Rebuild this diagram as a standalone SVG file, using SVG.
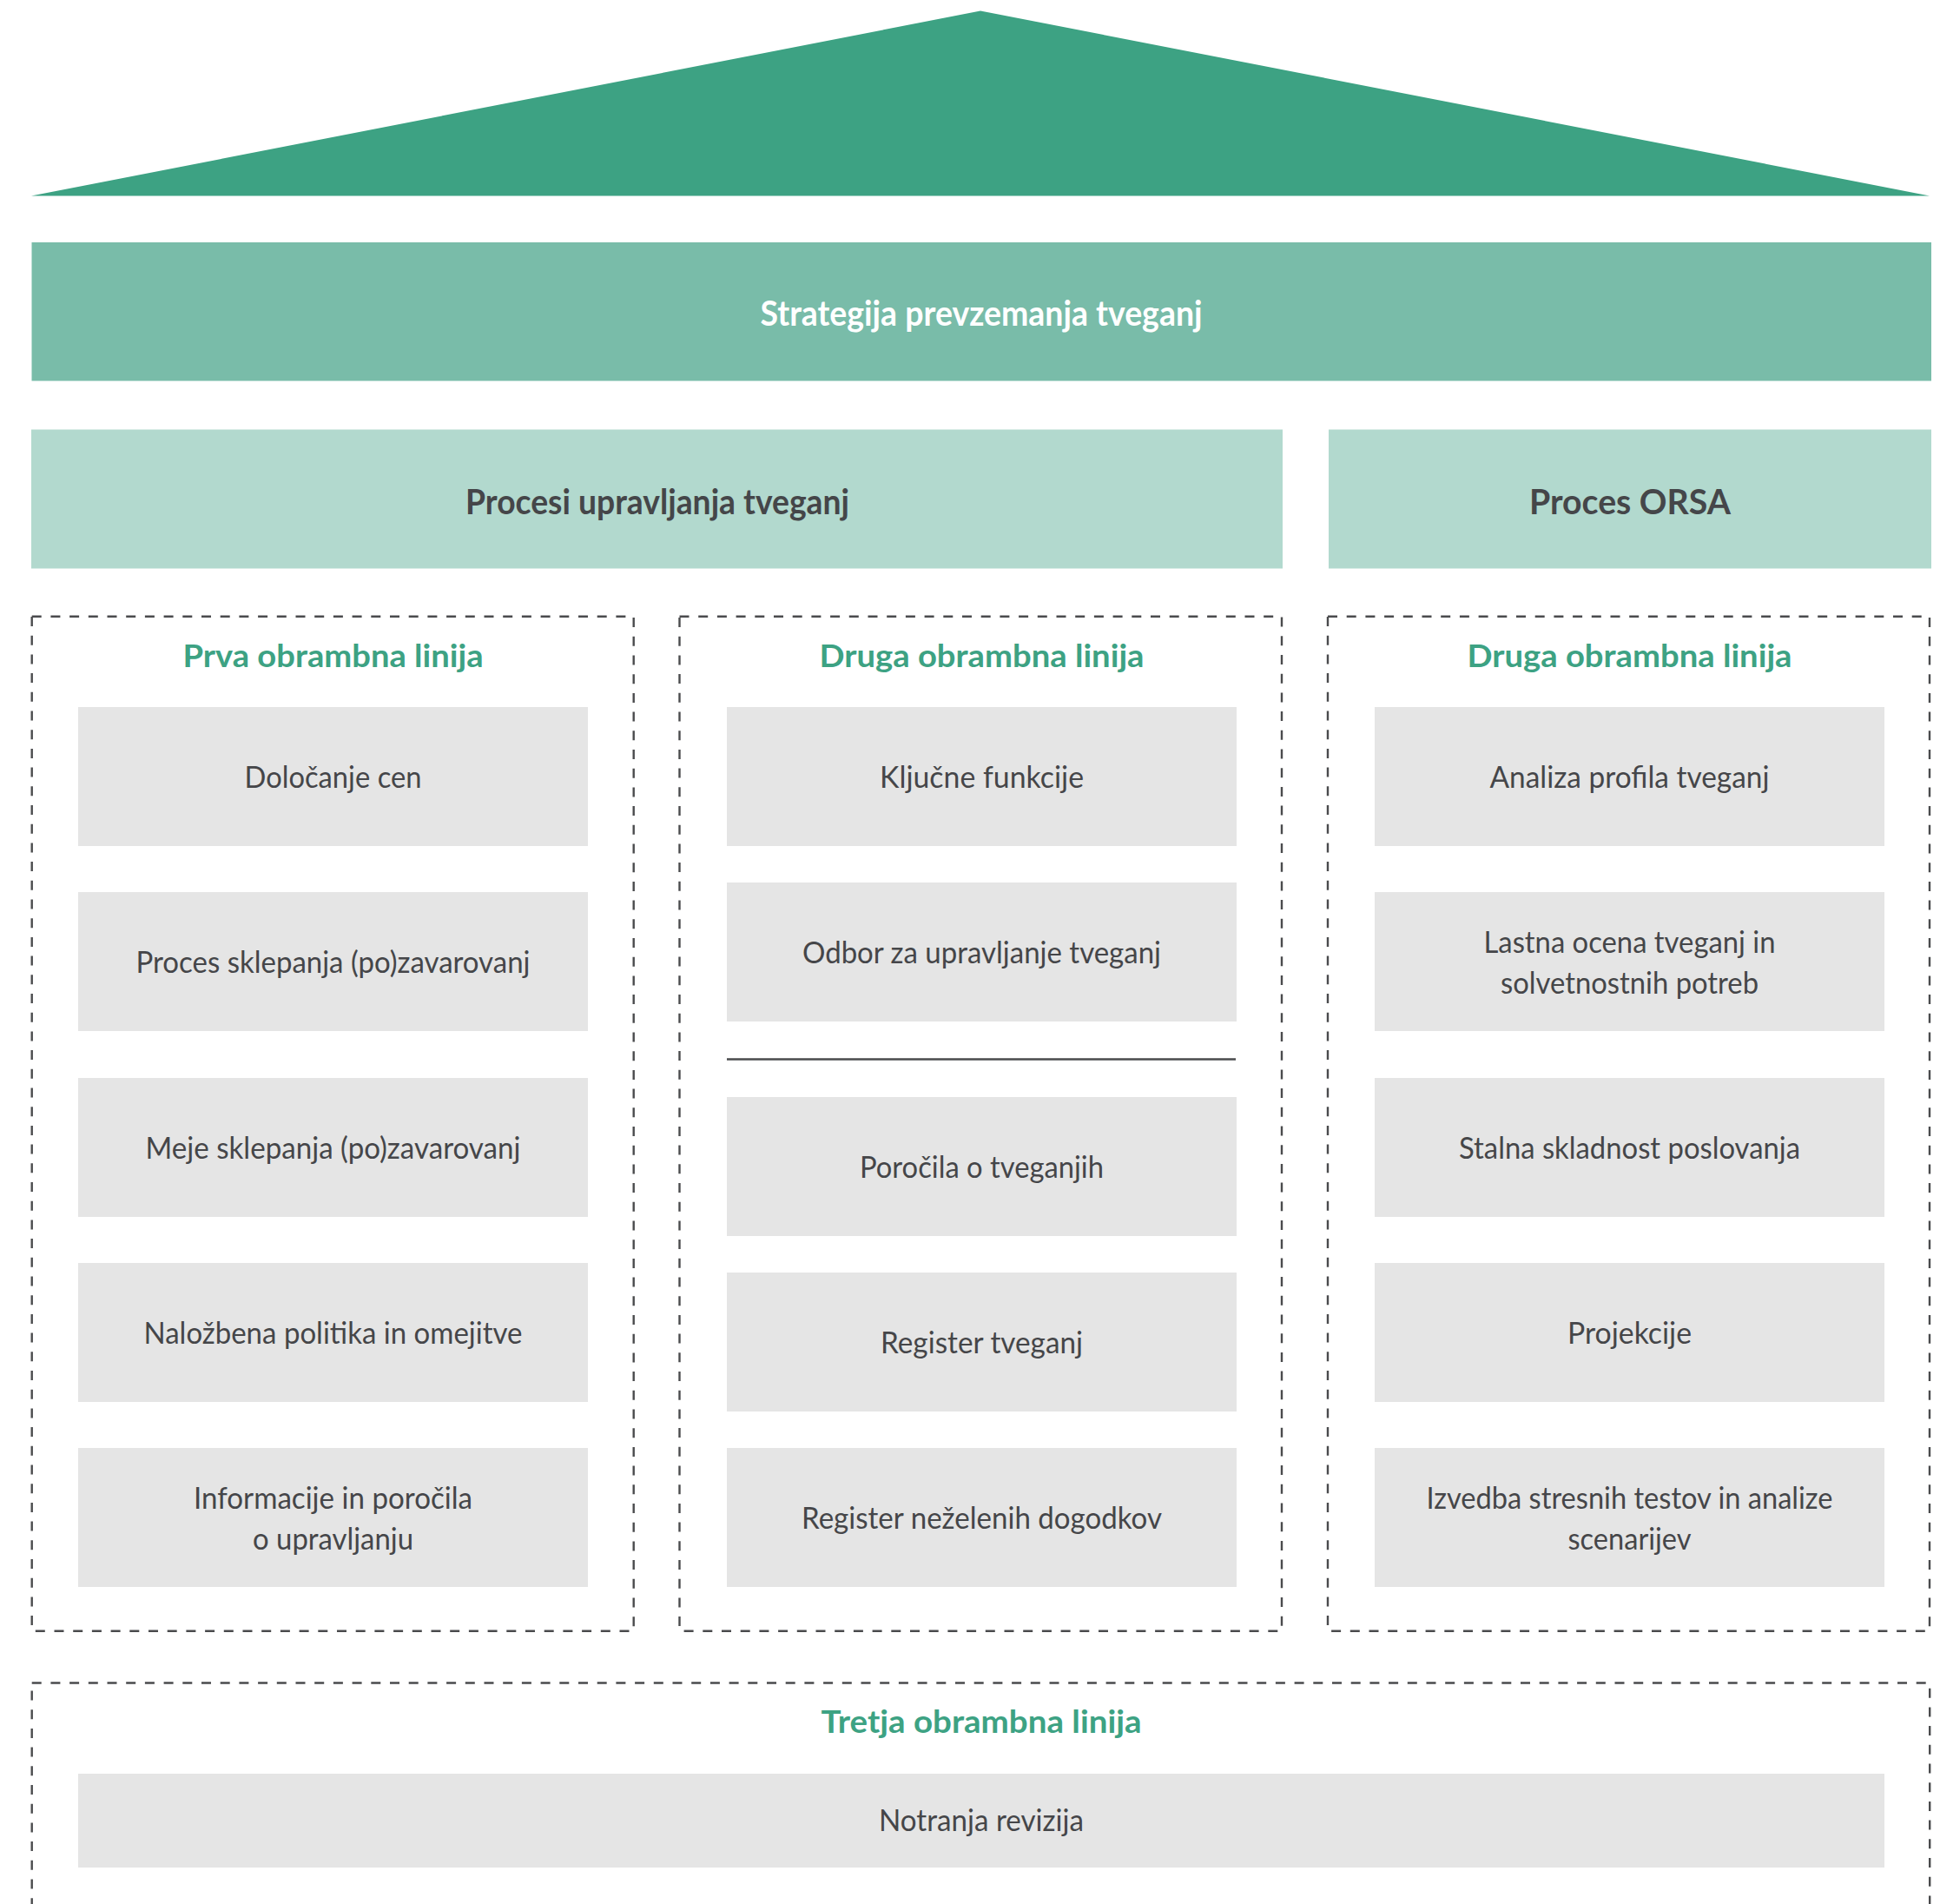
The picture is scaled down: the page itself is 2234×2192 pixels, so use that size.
<svg xmlns="http://www.w3.org/2000/svg" width="2234" height="2192" viewBox="0 0 2234 2192">
<style>
.bg{fill:#ffffff}
.roof{fill:#3da283}
.strat{fill:#79bca9}
.proc{fill:#b2d9ce}
.item{fill:#e5e5e5}
.dash{fill:none;stroke:#4a4b4d;stroke-width:2.4;stroke-dasharray:11 10.7}
.sep{stroke:#4a4b4d;stroke-width:2.5}
.t{font-family:Lato,"Open Sans","Liberation Sans",sans-serif;text-anchor:middle}
.tw{fill:#ffffff;font-weight:700;font-size:41px}
.th{fill:#454649;font-weight:700;font-size:41px}
.tg{fill:#3da283;font-weight:700;font-size:37px}
.tb{fill:#454649;font-weight:400;font-size:34px}
</style>
<rect class="bg" x="0" y="0" width="2234" height="2192"/>

<g id="roof"><polygon class="roof" points="36,225.5 1129,12.5 2222,225.5"/></g>

<g id="strategija">
<rect class="strat" x="36.5" y="279" width="2187.5" height="159.5"/>
<text class="t tw" x="1130" y="375" textLength="509" lengthAdjust="spacingAndGlyphs">Strategija prevzemanja tveganj</text>
</g>

<g id="procesi">
<rect class="proc" x="36" y="494.5" width="1441" height="160"/>
<text class="t th" x="757" y="591.5" textLength="442" lengthAdjust="spacingAndGlyphs">Procesi upravljanja tveganj</text>
</g>

<g id="orsa">
<rect class="proc" x="1530" y="494.5" width="694" height="160"/>
<text class="t th" x="1877" y="591.5" textLength="232" lengthAdjust="spacingAndGlyphs">Proces ORSA</text>
</g>

<g id="prva-linija">
<rect class="dash" x="36.7" y="709.7" width="693" height="1168"/>
<text class="t tg" x="383.5" y="768" textLength="346" lengthAdjust="spacingAndGlyphs">Prva obrambna linija</text>
</g>
<g id="druga-linija-1">
<rect class="dash" x="782.5" y="709.7" width="693.5" height="1168"/>
<text class="t tg" x="1130.5" y="768" textLength="374" lengthAdjust="spacingAndGlyphs">Druga obrambna linija</text>
</g>
<g id="druga-linija-2">
<rect class="dash" x="1529" y="709.7" width="693" height="1168"/>
<text class="t tg" x="1876.5" y="768" textLength="374" lengthAdjust="spacingAndGlyphs">Druga obrambna linija</text>
</g>

<g id="dolocanje-cen">
<rect class="item" x="90" y="814" width="587" height="160"/>
<text class="t tb" x="383.5" y="907" textLength="204" lengthAdjust="spacingAndGlyphs">Določanje cen</text>
</g>
<g id="proces-sklepanja">
<rect class="item" x="90" y="1027" width="587" height="160"/>
<text class="t tb" x="383.5" y="1120" textLength="454" lengthAdjust="spacingAndGlyphs">Proces sklepanja (po)zavarovanj</text>
</g>
<g id="meje-sklepanja">
<rect class="item" x="90" y="1241" width="587" height="160"/>
<text class="t tb" x="383.5" y="1334" textLength="432" lengthAdjust="spacingAndGlyphs">Meje sklepanja (po)zavarovanj</text>
</g>
<g id="nalozbena-politika">
<rect class="item" x="90" y="1454" width="587" height="160"/>
<text class="t tb" x="383.5" y="1547" textLength="436" lengthAdjust="spacingAndGlyphs">Naložbena politika in omejitve</text>
</g>
<g id="informacije">
<rect class="item" x="90" y="1667" width="587" height="160"/>
<text class="t tb" x="383.5" y="1737" textLength="321" lengthAdjust="spacingAndGlyphs">Informacije in poročila</text>
<text class="t tb" x="383.5" y="1783.5" textLength="185" lengthAdjust="spacingAndGlyphs">o upravljanju</text>
</g>

<g id="kljucne-funkcije">
<rect class="item" x="837" y="814" width="587" height="160"/>
<text class="t tb" x="1130.5" y="907" textLength="235" lengthAdjust="spacingAndGlyphs">Ključne funkcije</text>
</g>
<g id="odbor">
<rect class="item" x="837" y="1016" width="587" height="160"/>
<text class="t tb" x="1130.5" y="1108.5" textLength="413" lengthAdjust="spacingAndGlyphs">Odbor za upravljanje tveganj</text>
</g>
<g id="porocila">
<rect class="item" x="837" y="1263" width="587" height="160"/>
<text class="t tb" x="1130.5" y="1356" textLength="281" lengthAdjust="spacingAndGlyphs">Poročila o tveganjih</text>
</g>
<g id="register-tveganj">
<rect class="item" x="837" y="1465" width="587" height="160"/>
<text class="t tb" x="1130.5" y="1558" textLength="233" lengthAdjust="spacingAndGlyphs">Register tveganj</text>
</g>
<g id="register-dogodkov">
<rect class="item" x="837" y="1667" width="587" height="160"/>
<text class="t tb" x="1130.5" y="1760" textLength="415" lengthAdjust="spacingAndGlyphs">Register neželenih dogodkov</text>
</g>

<g id="analiza-profila">
<rect class="item" x="1583" y="814" width="587" height="160"/>
<text class="t tb" x="1876.5" y="907" textLength="322" lengthAdjust="spacingAndGlyphs">Analiza profila tveganj</text>
</g>
<g id="lastna-ocena">
<rect class="item" x="1583" y="1027" width="587" height="160"/>
<text class="t tb" x="1876.5" y="1097" textLength="336" lengthAdjust="spacingAndGlyphs">Lastna ocena tveganj in</text>
<text class="t tb" x="1876.5" y="1143.5" textLength="297" lengthAdjust="spacingAndGlyphs">solvetnostnih potreb</text>
</g>
<g id="stalna-skladnost">
<rect class="item" x="1583" y="1241" width="587" height="160"/>
<text class="t tb" x="1876.5" y="1334" textLength="393" lengthAdjust="spacingAndGlyphs">Stalna skladnost poslovanja</text>
</g>
<g id="projekcije">
<rect class="item" x="1583" y="1454" width="587" height="160"/>
<text class="t tb" x="1876.5" y="1547" textLength="143" lengthAdjust="spacingAndGlyphs">Projekcije</text>
</g>
<g id="stresni-testi">
<rect class="item" x="1583" y="1667" width="587" height="160"/>
<text class="t tb" x="1876.5" y="1737" textLength="468" lengthAdjust="spacingAndGlyphs">Izvedba stresnih testov in analize</text>
<text class="t tb" x="1876.5" y="1783.5" textLength="142" lengthAdjust="spacingAndGlyphs">scenarijev</text>
</g>

<g id="tretja-linija">
<rect class="dash" x="36.7" y="1937.5" width="2185.5" height="320"/>
<text class="t tg" x="1130" y="1995" textLength="369" lengthAdjust="spacingAndGlyphs">Tretja obrambna linija</text>
</g>
<g id="notranja-revizija">
<rect class="item" x="90" y="2042" width="2080" height="108"/>
<text class="t tb" x="1130" y="2108" textLength="236" lengthAdjust="spacingAndGlyphs">Notranja revizija</text>
</g>

<g id="connectors">
<line class="sep" x1="837" y1="1219.5" x2="1423" y2="1219.5"/>
</g>
</svg>
